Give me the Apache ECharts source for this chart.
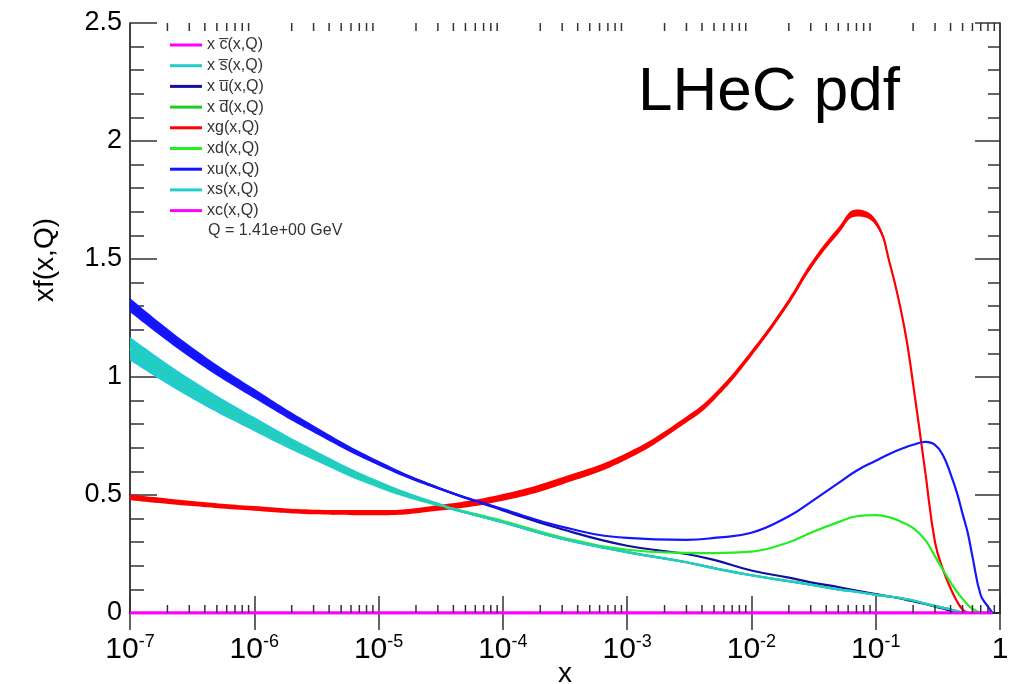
<!DOCTYPE html>
<html>
<head>
<meta charset="utf-8">
<script src="https://cdn.jsdelivr.net/npm/echarts@6/dist/echarts.min.js"></script>
<style>
  html, body { margin: 0; padding: 0; background: #fff; }
  #chart { width: 1029px; height: 684px; }
</style>
</head>
<body>
<div id="chart"></div>
<script>
// sample points in x (log spaced, denser near the valence region)
const xs = [1e-7, 3e-7, 1e-6, 3e-6, 1e-5, 3e-5, 1e-4, 3e-4, 1e-3, 3e-3,
            5e-3, 0.01, 0.02, 0.03, 0.05, 0.07, 0.1, 0.13, 0.17, 0.2,
            0.25, 0.3, 0.35, 0.4, 0.45, 0.5, 0.55, 0.6, 0.7, 0.8, 0.87];

// xg(x,Q) central + half width of the error band
const gVals = [0.49, 0.465, 0.443, 0.428, 0.425, 0.445, 0.49, 0.56, 0.665, 0.82,
               0.915, 1.10, 1.32, 1.47, 1.62, 1.695, 1.655, 1.48, 1.21, 0.97,
               0.60, 0.30, 0.18, 0.105, 0.05, 0.015, 0, null, null, null, null];
const gErr = [0.012, 0.011, 0.01, 0.01, 0.011, 0.012, 0.014, 0.015, 0.014, 0.013,
              0.013, 0.012, 0.012, 0.013, 0.014, 0.015, 0.012, 0.008, 0.006, 0.005,
              0.004, 0.003, 0.002, 0.002, 0.001, 0, 0, null, null, null, null];

// xu(x,Q)
const uVals = [1.305, 1.11, 0.93, 0.78, 0.635, 0.53, 0.44, 0.365, 0.318, 0.31,
               0.318, 0.34, 0.41, 0.47, 0.55, 0.603, 0.645, 0.675, 0.70, 0.713,
               0.725, 0.712, 0.665, 0.59, 0.51, 0.42, 0.34, 0.24, 0.075, 0.027, 0];
const uErr = [0.03, 0.025, 0.02, 0.015, 0.01, 0.006, 0.003, 0, 0, 0,
              0, 0, 0, 0, 0, 0, 0, 0, 0, 0,
              0, 0, 0, 0, 0, 0, 0, 0, 0, 0, 0];

// xubar(x,Q)
const ubarVals = [1.305, 1.11, 0.93, 0.78, 0.635, 0.53, 0.435, 0.355, 0.285, 0.25,
                  0.225, 0.18, 0.15, 0.13, 0.11, 0.095, 0.08, 0.07, 0.058, 0.05,
                  0.038, 0.027, 0.018, 0.01, 0.004, 0, null, null, null, null, null];

// xd(x,Q)
const dVals = [1.12, 0.955, 0.80, 0.67, 0.545, 0.46, 0.39, 0.32, 0.268, 0.255,
               0.254, 0.26, 0.30, 0.34, 0.385, 0.41, 0.415, 0.405, 0.38, 0.36,
               0.31, 0.24, 0.18, 0.13, 0.09, 0.06, 0.035, 0.018, 0, null, null];

// xs(x,Q)
const sVals = [1.12, 0.955, 0.80, 0.67, 0.545, 0.46, 0.385, 0.315, 0.258, 0.215,
               0.19, 0.16, 0.135, 0.12, 0.10, 0.09, 0.077, 0.07, 0.06, 0.053,
               0.04, 0.03, 0.022, 0.015, 0.008, 0.002, 0, null, null, null, null];
const sErr = [0.05, 0.04, 0.03, 0.022, 0.015, 0.008, 0.004, 0, 0, 0,
              0, 0, 0, 0, 0, 0, 0, 0, 0, 0,
              0, 0, 0, 0, 0, 0, 0, null, null, null, null];

// xsbar, xdbar: not distinguishable from xs in the plot
const sbarVals = [1.12, 0.955, 0.80, 0.67, 0.545, 0.46, 0.385, 0.315, 0.258, 0.215,
                  0.19, 0.16, 0.135, 0.12, 0.10, 0.09, 0.077, 0.07, 0.06, 0.053,
                  0.04, 0.03, 0.022, 0.015, 0.008, 0.002, 0, null, null, null, null];
const dbarVals = [1.12, 0.955, 0.80, 0.67, 0.545, 0.46, 0.385, 0.315, 0.258, 0.215,
                  0.19, 0.16, 0.135, 0.12, 0.10, 0.09, 0.077, 0.07, 0.06, 0.053,
                  0.04, 0.03, 0.022, 0.015, 0.008, 0.002, 0, null, null, null, null];

// charm is zero at Q = 1.41 GeV
const cVals = xs.map(() => 0);
const cbarVals = xs.map(() => 0);

const yTicks = [0, 0.5, 1, 1.5, 2, 2.5];

// 2..9 x 10^n minor ticks for the log axis
const minorX = [];
for (let e = -7; e < 0; e++) {
    for (let k = 2; k <= 9; k++) minorX.push(k * Math.pow(10, e));
}

const FONT = '"Liberation Sans", Arial, Helvetica, sans-serif';
const SMOOTH = 0.45;
const colors = {
    cbar: '#ff00ff', sbar: '#22cccc', ubar: '#1010a0', dbar: '#22cc22',
    g: '#ff0000', d: '#22ee22', u: '#1515ff', s: '#22cccc', c: '#ff00ff'
};

function pts(vals) {
    return xs.map((x, i) => [x, vals[i]]).filter(p => p[1] != null);
}

function line(name, vals, color, width) {
    return {
        name: name, type: 'line', data: pts(vals),
        smooth: SMOOTH, symbol: 'none', silent: true,
        lineStyle: { color: color, width: width || 2.2 },
        itemStyle: { color: color }
    };
}

// error band = invisible lower line + stacked filled width.
// y is put in the first column so the stack acts on y, not on x.
function band(key, vals, err, color) {
    const lo = [], w = [];
    xs.forEach((x, i) => {
        if (vals[i] == null || err[i] == null) return;
        lo.push([vals[i] - err[i], x]);
        w.push([2 * err[i], x]);
    });
    return [
        { name: key + '_lo', type: 'line', data: lo, encode: { x: 1, y: 0 }, stack: key,
          smooth: SMOOTH, symbol: 'none', silent: true, lineStyle: { opacity: 0 } },
        { name: key + '_band', type: 'line', data: w, encode: { x: 1, y: 0 }, stack: key,
          smooth: SMOOTH, symbol: 'none', silent: true, lineStyle: { opacity: 0 },
          areaStyle: { color: color, opacity: 1 } }
    ];
}

const names = {
    cbar: 'x c\u0305(x,Q)', sbar: 'x s\u0305(x,Q)', ubar: 'x u\u0305(x,Q)', dbar: 'x d\u0305(x,Q)',
    g: 'xg(x,Q)', d: 'xd(x,Q)', u: 'xu(x,Q)', s: 'xs(x,Q)', c: 'xc(x,Q)'
};

const series = [
    line(names.cbar, cbarVals, colors.cbar, 3),
    line(names.sbar, sbarVals, colors.sbar),
    line(names.ubar, ubarVals, colors.ubar),
    line(names.dbar, dbarVals, colors.dbar),
    ...band('g', gVals, gErr, colors.g),
    line(names.g, gVals, colors.g),
    line(names.d, dVals, colors.d),
    ...band('u', uVals, uErr, colors.u),
    line(names.u, uVals, colors.u),
    ...band('s', sVals, sErr, colors.s),
    line(names.s, sVals, colors.s),
    line(names.c, cVals, colors.c, 3),
    {
        name: 'minorTicks', type: 'custom', silent: true, z: 5,
        data: minorX.map(v => [v, 0]),
        encode: { x: 0, y: 1 },
        renderItem: function (params, api) {
            const x = api.value(0);
            const b = api.coord([x, yTicks[0]]);
            const t = api.coord([x, yTicks[yTicks.length - 1]]);
            const st = { stroke: '#333', lineWidth: 1.5 };
            return {
                type: 'group', children: [
                    { type: 'line', shape: { x1: b[0], y1: b[1], x2: b[0], y2: b[1] - 8 }, style: st },
                    { type: 'line', shape: { x1: t[0], y1: t[1], x2: t[0], y2: t[1] + 8 }, style: st }
                ]
            };
        }
    }
];

const axisLine = { show: true, lineStyle: { color: '#000', width: 1.5 } };

const chart = echarts.init(document.getElementById('chart'));
chart.setOption({
    animation: false,
    backgroundColor: '#fff',
    grid: { left: 130, right: 29, top: 23, bottom: 71, containLabel: false, outerBoundsMode: 'none' },
    legend: {
        data: Object.values(names),
        orient: 'vertical', left: 170, top: 37, padding: 0,
        icon: 'rect', itemWidth: 32, itemHeight: 3, itemGap: 4.7,
        textStyle: { fontFamily: FONT, fontSize: 16, color: '#333', lineHeight: 16 }
    },
    xAxis: [{
        type: 'log', logBase: 10, min: xs[0], max: 1,
        name: 'x', nameLocation: 'middle', nameGap: 47, nameMoveOverlap: false,
        nameTextStyle: { fontFamily: FONT, fontSize: 28, color: '#000' },
        axisLine: axisLine,
        axisTick: { show: true, inside: true, length: 17, lineStyle: { color: '#333', width: 1.5 } },
        splitLine: { show: false },
        axisLabel: {
            margin: 20,
            formatter: function (v) {
                const e = Math.round(Math.log10(v));
                return e === 0 ? '{b|1}' : '{b|10}{e|' + e + '}';
            },
            rich: {
                b: { fontFamily: FONT, fontSize: 30, color: '#000', lineHeight: 34 },
                e: { fontFamily: FONT, fontSize: 18, color: '#000', lineHeight: 34, verticalAlign: 'top' }
            }
        }
    }, {
        type: 'log', logBase: 10, min: xs[0], max: 1, position: 'top',
        axisLine: axisLine,
        axisTick: { show: true, inside: true, length: 17, lineStyle: { color: '#333', width: 1.5 } },
        axisLabel: { show: false }, splitLine: { show: false }
    }],
    yAxis: [{
        type: 'value', min: yTicks[0], max: yTicks[yTicks.length - 1], interval: 0.5,
        axisLine: axisLine,
        axisTick: { show: true, inside: true, length: 27, lineStyle: { color: '#333', width: 1.5 } },
        minorTick: { show: true, splitNumber: 5, length: 14, lineStyle: { color: '#333', width: 1.5 } },
        splitLine: { show: false },
        axisLabel: { margin: 8, fontFamily: FONT, fontSize: 27, color: '#000' }
    }, {
        type: 'value', min: yTicks[0], max: yTicks[yTicks.length - 1], interval: 0.5, position: 'right',
        axisLine: axisLine,
        axisTick: { show: true, inside: true, length: 25, lineStyle: { color: '#333', width: 1.5 } },
        minorTick: { show: true, splitNumber: 5, length: 12, lineStyle: { color: '#333', width: 1.5 } },
        splitLine: { show: false },
        axisLabel: { show: false }
    }],
    graphic: [
        { type: 'text', x: 638, y: 93, silent: true,
          style: { text: 'LHeC pdf', font: '62px ' + FONT, fill: '#000', align: 'left', verticalAlign: 'middle' } },
        { type: 'text', x: 208, y: 231, silent: true,
          style: { text: 'Q = 1.41e+00 GeV', font: '16px ' + FONT, fill: '#333', align: 'left', verticalAlign: 'middle' } },
        { type: 'text', x: 45, y: 260, rotation: Math.PI / 2, silent: true,
          style: { text: 'xf(x,Q)', font: '28px ' + FONT, fill: '#000', align: 'center', verticalAlign: 'middle' } }
    ],
    series: series
});
</script>
</body>
</html>
